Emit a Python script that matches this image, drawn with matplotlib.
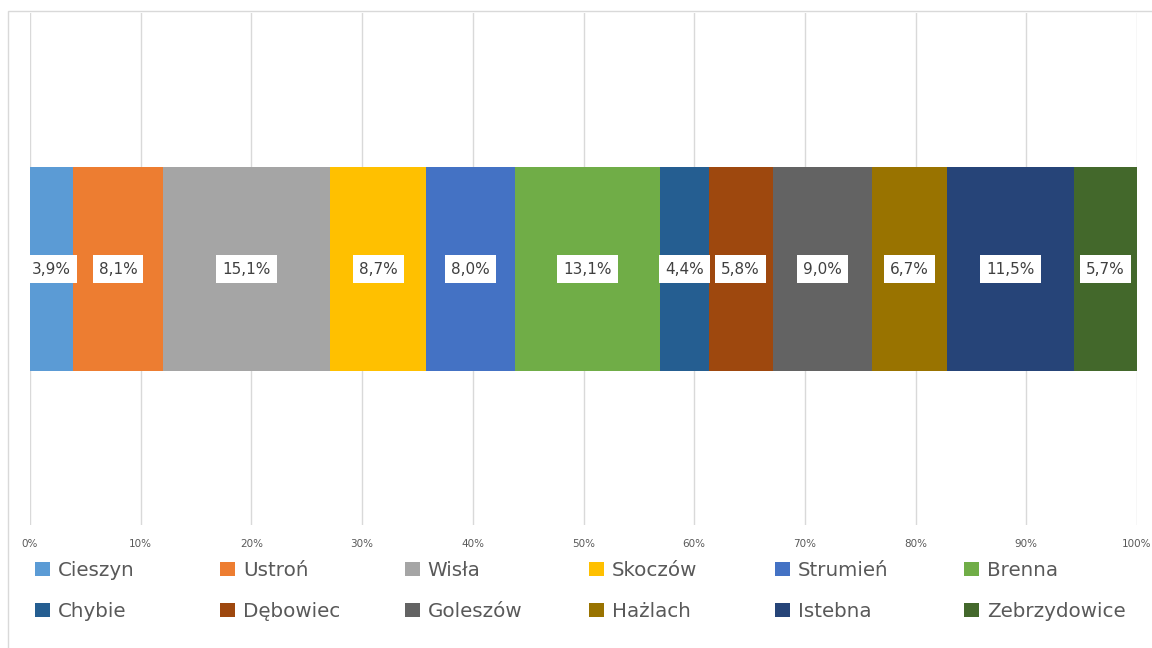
import matplotlib.pyplot as plt
from matplotlib.patches import Rectangle
from matplotlib.ticker import FuncFormatter

plt.rcParams["font.family"] = ["DejaVu Sans"]

gminy = ["Cieszyn", "Ustroń", "Wisła", "Skoczów", "Strumień", "Brenna",
         "Chybie", "Dębowiec", "Goleszów", "Hażlach", "Istebna", "Zebrzydowice"]
udzialy = [3.9, 8.1, 15.1, 8.7, 8.0, 13.1, 4.4, 5.8, 9.0, 6.7, 11.5, 5.7]
kolory = ["#5B9BD5", "#ED7D31", "#A5A5A5", "#FFC000", "#4472C4", "#70AD47",
          "#255E91", "#9E480E", "#636363", "#997300", "#264478", "#43682B"]

fig = plt.figure(figsize=(11.52, 6.48), dpi=100)
fig.patches.append(Rectangle((8 / 1152, -0.1), 1.2, 1 - 11 / 648 + 0.1,
                             transform=fig.transFigure, fill=False,
                             edgecolor="#D9D9D9", linewidth=1))
ax = fig.add_axes([30 / 1152, 1 - 525 / 648, 1107 / 1152, 512 / 648])

left = 0
for name, val, col in zip(gminy, udzialy, kolory):
    ax.barh(0, val, left=left, height=0.4, color=col, label=name)
    ax.text(left + val / 2, 0, f"{val:.1f}%".replace(".", ","),
            ha="center", va="center", fontsize=11, color="#404040",
            bbox=dict(boxstyle="square,pad=0.4", facecolor="white", edgecolor="none"))
    left += val

ax.set_xlim(0, 100)
ax.set_ylim(-0.5, 0.5)
ax.set_xticks(range(0, 101, 10))
ax.xaxis.set_major_formatter(FuncFormatter(lambda v, p: f"{v:.0f}%"))
ax.tick_params(axis="x", length=0, labelsize=7.5, labelcolor="#595959", pad=10)
ax.set_yticks([])
ax.grid(axis="x", color="#D9D9D9", linewidth=1)
ax.set_axisbelow(True)
for s in ax.spines.values():
    s.set_visible(False)

# legenda: 6 kolumn po 2 wpisy, ułożona wierszami jak w Excelu
handles, labels = ax.get_legend_handles_labels()
col_x = [35, 220, 405, 589, 775, 964]
for c, x in enumerate(col_x):
    fig.legend([handles[c], handles[c + 6]], [labels[c], labels[c + 6]],
               loc="upper left", bbox_to_anchor=(x / 1152, 1 - 561 / 648),
               frameon=False, fontsize=14.3, labelcolor="#595959",
               handlelength=0.75, handleheight=0.75, handletextpad=0.4,
               borderpad=0, borderaxespad=0, labelspacing=1.1)

fig.savefig("out.png", dpi=100)
